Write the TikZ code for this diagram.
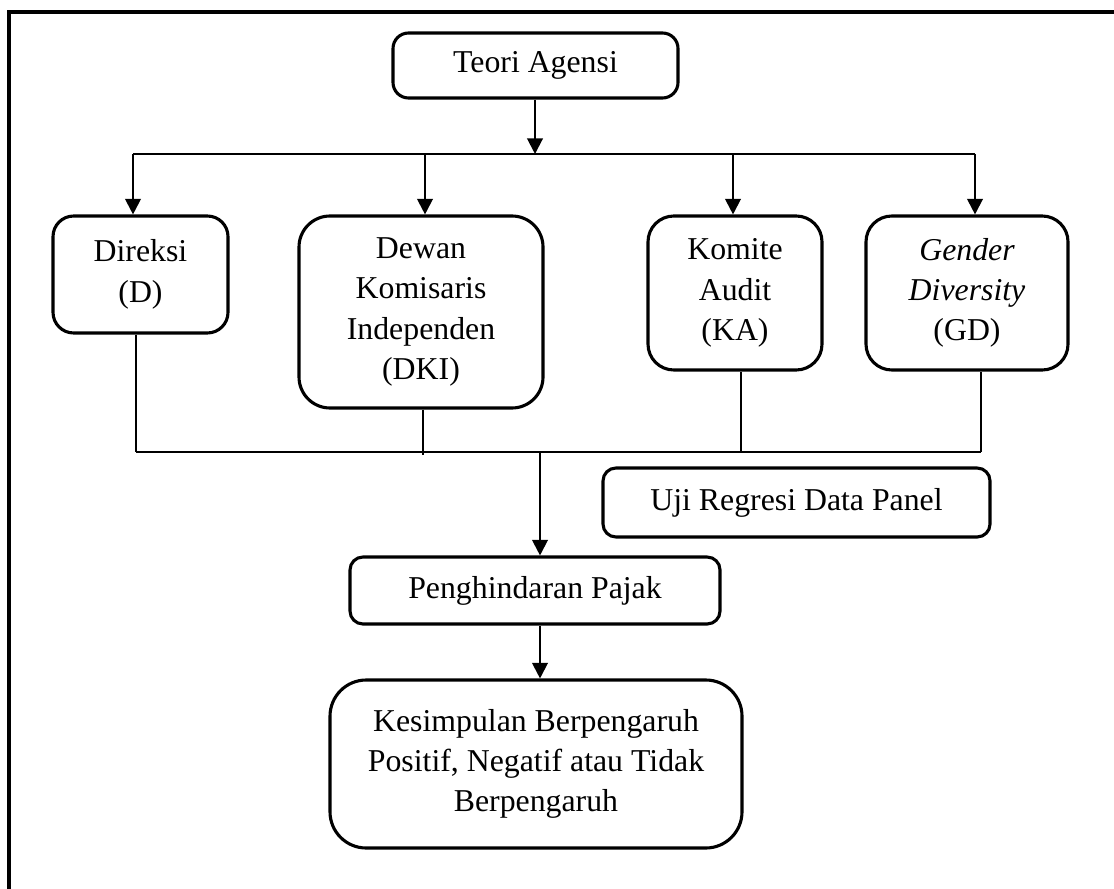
\documentclass[tikz,border=0pt]{standalone}
\usepackage{fontspec}
\setmainfont{Liberation Serif}
\usetikzlibrary{arrows.meta,calc}

\begin{document}
\begin{tikzpicture}[x=0.0136cm,y=-0.0136cm,
	box/.style={draw,line width=1.2pt,rounded corners=#1,align=center,inner sep=0pt,
		font=\fontsize{12.3}{15.6}\selectfont},
	box/.default=6pt,
	sz/.style 2 args={minimum width=#1*0.0136cm,minimum height=#2*0.0136cm},
	arr/.style={line width=0.8pt,-{Triangle[width=6pt,length=6pt]}},
	bus/.style={line width=0.6pt}]
			\useasboundingbox (0,0) rectangle (1114,889);
			
			% frame
			\draw[line width=1.6pt] (9,889)--(9,12)--(1114,12);
			
			\node[box,sz={285}{65}] (teori) at (535.5,65.5) {Teori Agensi};
			
			\node[box=8pt,sz={175}{117}] (direksi) at (140.5,274.5) {Direksi\\(D)};
			\node[box=12pt,sz={244}{192}] (dki) at (421,312) {Dewan\\Komisaris\\Independen\\(DKI)};
			\node[box=10pt,sz={174}{154}] (ka) at (735,293) {Komite\\Audit\\(KA)};
			\node[box=10pt,sz={202}{154}] (gd) at (967,293) {\textit{Gender}\\\textit{Diversity}\\(GD)};
			
			\node[box=5pt,sz={387}{69}] (uji) at (796.5,502.5) {Uji Regresi Data Panel};
			\node[box=5pt,sz={370}{67}] (pajak) at (535,590.5) {Penghindaran Pajak};
			\node[box=14pt,sz={412}{168}] (simpulan) at (536,764) {Kesimpulan Berpengaruh\\Positif, Negatif atau Tidak\\Berpengaruh};
			
			% top bus
			\coordinate (T1) at (133,154);
			\coordinate (T2) at (425,154);
			\coordinate (T3) at (733,154);
			\coordinate (T4) at (975,154);
			\draw[arr] (teori.south -| 535,0) -- (535,154);
			\draw[bus] (T1)--(T4);
			\draw[arr] (T1) -- (T1 |- direksi.north);
			\draw[arr] (T2) -- (T2 |- dki.north);
			\draw[arr] (T3) -- (T3 |- ka.north);
			\draw[arr] (T4) -- (T4 |- gd.north);
			
			% bottom bus
			\coordinate (B1) at (136,452);
			\coordinate (B2) at (423,452);
			\coordinate (B3) at (741,452);
			\coordinate (B4) at (981,452);
			\coordinate (B5) at (540,452);
			\draw[bus] (B1)--(B4);
			\draw[bus] (B1 |- direksi.south) -- (B1);
			\draw[bus] (B2 |- dki.south) -- ($(B2)+(0,3)$);
			\draw[bus] (B3 |- ka.south) -- (B3);
			\draw[bus] (B4 |- gd.south) -- (B4);
			
			\draw[arr] (B5) -- (B5 |- pajak.north);
			\draw[arr] (pajak.south -| B5) -- (B5 |- simpulan.north);
		\end{tikzpicture}
\end{document}
